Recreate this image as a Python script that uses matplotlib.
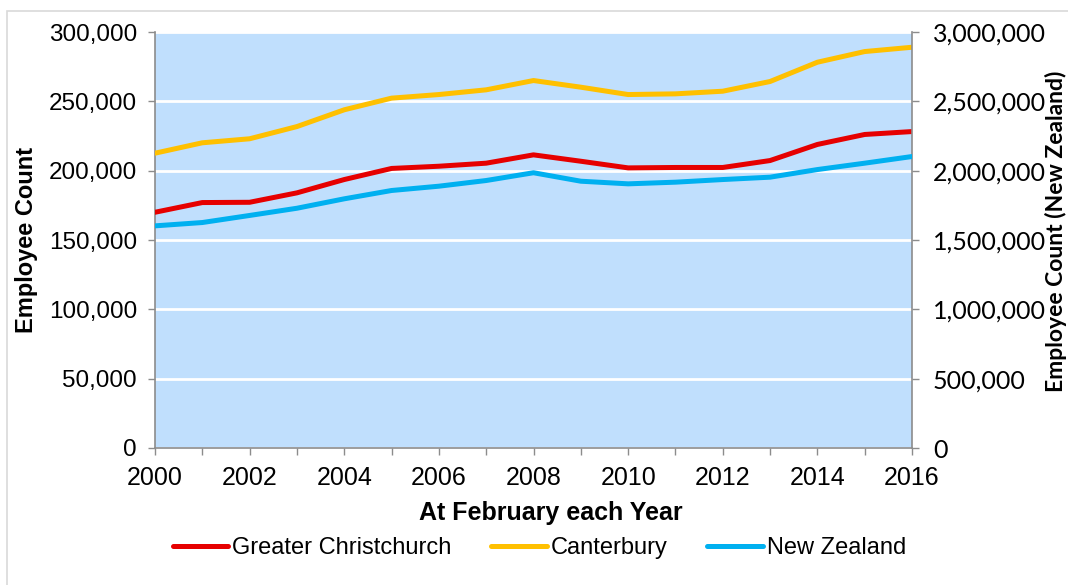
import matplotlib
matplotlib.use("Agg")
import matplotlib.pyplot as plt
from matplotlib.ticker import FuncFormatter, MultipleLocator
from matplotlib.patches import Rectangle

years = list(range(2000, 2017))
greater_christchurch = [170000, 177000, 177200, 184000, 193600, 201600, 203200, 205400, 211400,
                        206800, 202000, 202300, 202300, 207300, 218900, 226100, 228200]
canterbury = [212600, 220100, 223000, 231800, 243900, 252300, 254900, 258300, 265000,
              260200, 254900, 255400, 257300, 264300, 278200, 285900, 289000]
new_zealand = [1602000, 1626000, 1677000, 1729000, 1797000, 1857000, 1888000, 1929000, 1985000,
               1924000, 1905000, 1917000, 1936000, 1953000, 2008000, 2054000, 2102000]
series_names = ["Greater Christchurch", "Canterbury", "New Zealand"]
x_tick_labels = [str(y) if y % 2 == 0 else "" for y in years]

RED = "#E60000"
YELLOW = "#FFC000"
BLUE = "#00B0F0"
BG = "#C0DFFD"
AXC = "#8C8C8C"

fig = plt.figure(figsize=(10.68, 5.85), dpi=100)
fig.patches.append(Rectangle((7 / 1068, -0.1), 1.2, 1 - 11 / 585 + 0.1, transform=fig.transFigure,
                             fill=False, edgecolor="#D9D9D9", linewidth=1.2))

ax = fig.add_axes([155 / 1068, 1 - 448 / 585, 757 / 1068, 416 / 585])
ax.set_facecolor(BG)
ax2 = ax.twinx()

l1, = ax.plot(years, greater_christchurch, color=RED, lw=3.6, solid_capstyle="round", zorder=3)
l2, = ax.plot(years, canterbury, color=YELLOW, lw=3.6, solid_capstyle="round", zorder=3)
l3, = ax2.plot(years, new_zealand, color=BLUE, lw=3.6, solid_capstyle="round", zorder=3)

ax.set_xlim(2000, 2016)
ax.set_ylim(0, 300000)
ax2.set_ylim(0, 3000000)

ax.set_xticks(years)
ax.set_xticklabels(x_tick_labels)
ax.yaxis.set_major_locator(MultipleLocator(50000))
ax2.yaxis.set_major_locator(MultipleLocator(500000))
fmt = FuncFormatter(lambda v, p: f"{int(v):,}")
ax.yaxis.set_major_formatter(fmt)
ax2.yaxis.set_major_formatter(fmt)

ax.grid(axis="y", color="white", lw=2.0, zorder=1)
ax.set_axisbelow(True)

for a in (ax, ax2):
    for s in a.spines.values():
        s.set_visible(False)
ax.spines["left"].set_visible(True)
ax.spines["bottom"].set_visible(True)
ax2.spines["right"].set_visible(True)
for s in (ax.spines["left"], ax.spines["bottom"], ax2.spines["right"]):
    s.set_color(AXC)
    s.set_linewidth(1.2)

ax.tick_params(axis="both", direction="out", length=5, width=1.0, color=AXC)
ax.tick_params(axis="y", labelsize=17.5, pad=8)
ax.tick_params(axis="x", labelsize=18, pad=8)
ax2.tick_params(axis="y", direction="out", length=5, width=1.0, color=AXC, labelsize=18, pad=10)

for lab in ax.get_xticklabels() + ax.get_yticklabels():
    lab.set_fontfamily("Liberation Sans")
for lab in ax2.get_yticklabels():
    lab.set_fontfamily("Lato")

ax.set_ylabel("Employee Count", fontsize=17, fontweight="bold", family="Liberation Sans")
ax.yaxis.set_label_coords(-0.155, 0.5)
ax2.set_ylabel("Employee Count (New Zealand)", fontsize=16.5, fontweight="bold", family="Lato")
ax2.yaxis.set_label_coords(1.175, 0.52)
ax.set_xlabel("At February each Year", fontsize=18, fontweight="bold", family="Liberation Sans")
ax.xaxis.set_label_coords(0.523, -0.127)

fig.legend([l1, l2, l3], series_names, loc="center", bbox_to_anchor=(0.505, 1 - 548 / 585),
           ncol=3, frameon=False, handlelength=2.35, handletextpad=0.15, columnspacing=1.7,
           prop={"family": "Liberation Sans", "size": 17})

fig.savefig("out.png", dpi=100)
